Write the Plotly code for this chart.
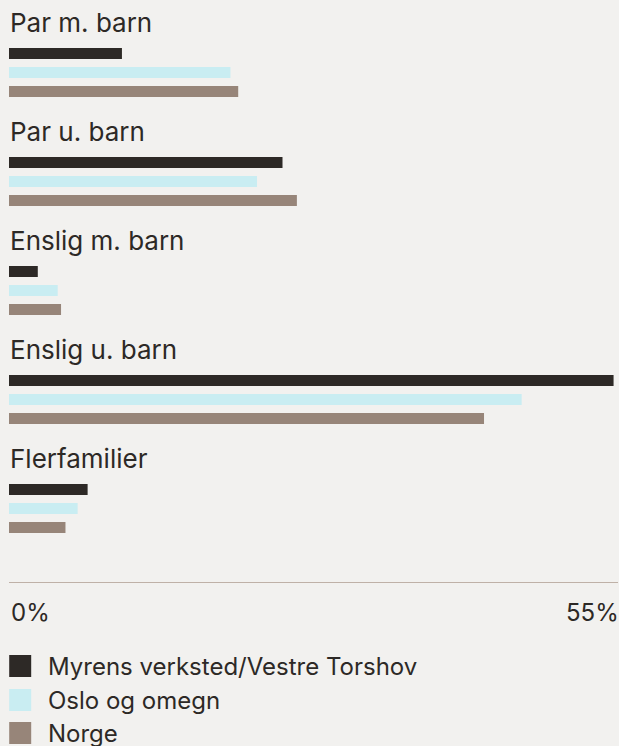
import plotly.graph_objects as go

# Household composition, share of households (%)
categories = ["Par m. barn", "Par u. barn", "Enslig m. barn", "Enslig u. barn", "Flerfamilier"]
series_names = ["Myrens verksted/Vestre Torshov", "Oslo og omegn", "Norge"]
myrens = [10.2, 24.7, 2.6, 54.6, 7.1]
oslo = [20.0, 22.4, 4.4, 46.3, 6.2]
norge = [20.7, 26.0, 4.7, 42.9, 5.1]
tick_values = [0, 55]
tick_labels = ["0%", "55%"]

colors = ["#2d2926", "#c9edf2", "#978579"]
bg = "#f2f1ef"
text_color = "#2d2926"
font_family = "Inter, 'Open Sans', sans-serif"
font_weight = 400

W, H = 619, 746
M_L, M_R, M_T, M_B = 9.3, 0.5, 0, 164
plot_h = H - M_T - M_B
plot_w = W - M_L - M_R

# y axis in "group" units: one group = 109 px
group_px = 109.0
first_center_px = 72.5
y_top = -first_center_px / group_px
y_bot = y_top + plot_h / group_px


def py_to_paper(py):
    return (H - M_B - py) / plot_h


def px_to_paper(px):
    return (px - M_L) / plot_w


fig = go.Figure()
ys = list(range(len(categories)))
for name, vals, col in zip(series_names, [myrens, oslo, norge], colors):
    fig.add_trace(go.Bar(
        y=ys, x=vals, name=name, orientation="h",
        marker=dict(color=col, line=dict(width=0)),
        showlegend=False, hoverinfo="skip",
    ))

# category labels above each group
label_offset = 0.46
for i, cat in enumerate(categories):
    fig.add_annotation(
        x=0, y=i - label_offset, xref="x", yref="y",
        text=cat, showarrow=False, xanchor="left", yanchor="middle", xshift=-1,
        font=dict(family=font_family, size=26, color=text_color, weight=font_weight),
    )

# axis end labels
for v, lab in zip(tick_values, tick_labels):
    first = v == tick_values[0]
    fig.add_annotation(
        x=v, y=py_to_paper(612), xref="x", yref="paper",
        text=lab, showarrow=False,
        xanchor="left" if first else "right", yanchor="middle",
        xshift=0 if first else 3,
        font=dict(family=font_family, size=24, color=text_color, weight=font_weight),
    )

# legend: swatches + names
sw = 22
leg_centers = [666, 700, 733]
for name, col, cy in zip(series_names, colors, leg_centers):
    fig.add_shape(
        type="rect", xref="paper", yref="paper",
        x0=px_to_paper(9.5), x1=px_to_paper(9.5 + sw),
        y0=py_to_paper(cy + sw / 2), y1=py_to_paper(cy - sw / 2),
        fillcolor=col, line=dict(width=0),
    )
    fig.add_annotation(
        x=px_to_paper(46), y=py_to_paper(cy), xref="paper", yref="paper",
        text=name, showarrow=False, xanchor="left", yanchor="middle",
        font=dict(family=font_family, size=24, color=text_color, weight=font_weight),
    )

fig.update_layout(
    width=W, height=H,
    margin=dict(l=M_L, r=M_R, t=M_T, b=M_B, pad=0),
    paper_bgcolor=bg, plot_bgcolor=bg,
    barmode="group", bargap=0.477, bargroupgap=0.421,
    xaxis=dict(range=[0, 55], showgrid=False, zeroline=False, showticklabels=False,
               ticks="", showline=True, linecolor="#bfb1a7", linewidth=1,
               fixedrange=True),
    yaxis=dict(range=[y_bot, y_top], showgrid=False, zeroline=False,
               showticklabels=False, ticks="", showline=False, fixedrange=True),
    showlegend=False,
)

fig.write_html("out.html", config={"displayModeBar": False})
